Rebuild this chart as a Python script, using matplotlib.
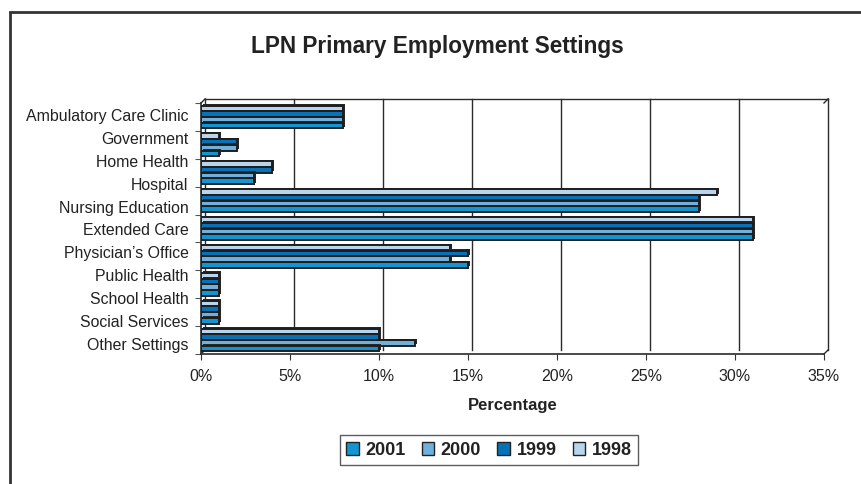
import numpy as np
import matplotlib
matplotlib.use("Agg")
import matplotlib.pyplot as plt
import matplotlib.patheffects as pe
from matplotlib.patches import Rectangle, Patch
from matplotlib.lines import Line2D
from matplotlib.transforms import ScaledTranslation

plt.rcParams['font.family'] = ['Liberation Sans', 'DejaVu Sans']

# axis labels as printed on the chart (11), bar groups as drawn (9)
categories = ['Ambulatory Care Clinic', 'Government', 'Home Health', 'Hospital',
              'Nursing Education', 'Extended Care', "Physician\u2019s Office",
              'Public Health', 'School Health', 'Social Services', 'Other Settings']
years = ['2001', '2000', '1999', '1998']
v1998 = [8, 1, 4, 29, 31, 14, 1, 1, 10]
v1999 = [8, 2, 4, 28, 31, 15, 1, 1, 10]
v2000 = [8, 2, 3, 28, 31, 14, 1, 1, 12]
v2001 = [8, 1, 3, 28, 31, 15, 1, 1, 10]
xticks = [0, 5, 10, 15, 20, 25, 30, 35]

colors = {'2001': '#1295d0', '2000': '#6fb0dd', '1999': '#0872b6', '1998': '#b9d5ee'}
TXT = '#222222'

W, H = 861, 485
fig = plt.figure(figsize=(W / 100, H / 100), dpi=100)
ax = fig.add_axes([201 / W, 1 - 355 / H, (824 - 201) / W, (355 - 104) / H])

# outer chart frame (runs off right and bottom edges)
fig.patches.append(Rectangle((10 / W, -0.1), 1.2, 1.1 - 13 / H, transform=fig.transFigure,
                             fill=False, edgecolor='#333333', linewidth=2, clip_on=False))

n = len(v1998)
pos = np.arange(n)
h = 0.205
series = [('1998', v1998, -1.5), ('1999', v1999, -0.5), ('2000', v2000, 0.5), ('2001', v2001, 1.5)]
shadow = [pe.SimplePatchShadow(offset=(1.5, 1.0), shadow_rgbFace='#262626', alpha=1), pe.Normal()]
for yr, vals, k in series:
    bars = ax.barh(pos + k * h, vals, height=h, color=colors[yr], edgecolor='#1e1e1e',
                   linewidth=1.4, zorder=3)
    for b in bars:
        b.set_path_effects(shadow)

ax.set_xlim(0, 35)
ax.set_ylim(n - 0.5, -0.5)

# back wall, offset up and right for the 3-D look
dx, dy = 3 / 72, 3 / 72
back = ax.transData + ScaledTranslation(dx, dy, fig.dpi_scale_trans)
for x in xticks[1:]:
    ax.add_line(Line2D([x, x], [n - 0.5, -0.5], transform=back, color='#2a2a2a',
                       linewidth=1, zorder=1, clip_on=False))
ax.add_line(Line2D([0, 35], [-0.5, -0.5], transform=back, color='#2a2a2a', linewidth=1,
                   zorder=1, clip_on=False))
ax.add_line(Line2D([0, 0], [n - 0.5, -0.5], transform=back, color='#2a2a2a', linewidth=1,
                   zorder=1, clip_on=False))
# floor edge joins
for x in [0, 35]:
    for y in [-0.5, n - 0.5]:
        p0 = ax.transData.transform((x, y))
        p1 = back.transform((x, y))
        ax.add_line(Line2D([p0[0], p1[0]], [p0[1], p1[1]], transform=None, color='#2a2a2a',
                           linewidth=1, zorder=1, clip_on=False))

for s in ['top', 'right']:
    ax.spines[s].set_visible(False)
for s in ['left', 'bottom']:
    ax.spines[s].set_color('#2a2a2a')
    ax.spines[s].set_linewidth(1.2)

ax.set_xticks(xticks)
ax.set_xticklabels([f'{x}%' for x in xticks], fontsize=11.5, color=TXT)
ax.tick_params(axis='x', length=4, color='#333333', pad=6)

ax.set_yticks(np.arange(n + 1) - 0.5)
ax.set_yticklabels([])
ax.tick_params(axis='y', which='major', length=4, color='#555555')
slots = -0.5 + (np.arange(len(categories)) + 0.5) * n / len(categories)
ax.set_yticks(slots, minor=True)
ax.set_yticklabels(categories, minor=True, fontsize=11.4, color=TXT)
ax.tick_params(axis='y', which='minor', length=0, pad=9)

ax.set_xlabel('Percentage', fontsize=12, fontweight='bold', color=TXT, labelpad=10)
fig.text(437 / W, 1 - 47 / H, 'LPN Primary Employment Settings', ha='center', va='center',
         fontsize=16.3, fontweight='bold', color=TXT)

handles = [Patch(facecolor=colors[y], edgecolor='#222222', linewidth=1) for y in years]
leg = fig.legend(handles, years, loc='center', bbox_to_anchor=(489 / W, 1 - 451 / H),
                 ncol=4, frameon=True, fancybox=False,
                 prop={'weight': 'bold', 'size': 13}, handlelength=0.7, handleheight=0.7,
                 handletextpad=0.35, columnspacing=0.9, borderpad=0.35)
leg.get_frame().set_edgecolor('#333333')
leg.get_frame().set_linewidth(1)
for t in leg.get_texts():
    t.set_color(TXT)

fig.savefig('out.png', dpi=100)
